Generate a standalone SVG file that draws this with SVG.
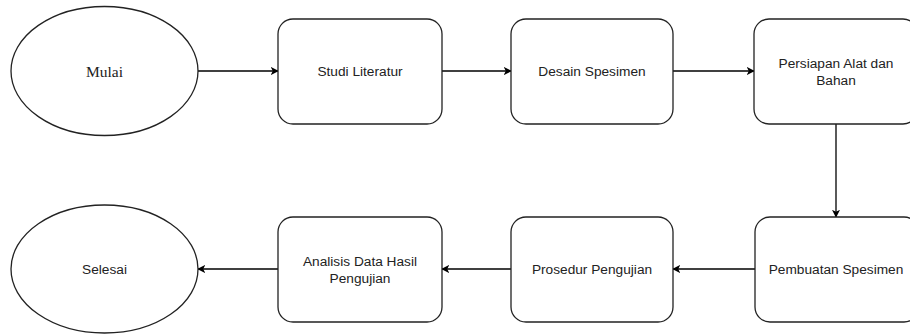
<svg xmlns="http://www.w3.org/2000/svg" width="910" height="334" viewBox="0 0 910 334">
<defs>
<marker id="ah" viewBox="0 0 10 10" refX="9" refY="5" markerWidth="8" markerHeight="8" markerUnits="userSpaceOnUse" orient="auto">
<path d="M0,0 L10,5 L0,10 L2.5,5 Z" fill="#000"/>
</marker>
<style>
.n{fill:#fff;stroke:#222;stroke-width:1.3}
.t{font-family:"Liberation Sans",Arial,sans-serif;font-size:13.7px;fill:#222;text-anchor:middle}
.s{font-family:"Liberation Serif","Times New Roman",serif;font-size:15.5px;fill:#222;text-anchor:middle}
.c{fill:none;stroke:#000;stroke-width:1.3;marker-end:url(#ah)}
</style>
</defs>
<rect width="910" height="334" fill="#fff"/>
<g id="connectors">
<line class="c" x1="198" y1="71" x2="278" y2="71"/>
<line class="c" x1="442" y1="71" x2="511" y2="71"/>
<line class="c" x1="673" y1="71" x2="754" y2="71"/>
<line class="c" x1="836" y1="124" x2="836" y2="217"/>
<line class="c" x1="755" y1="269" x2="673" y2="269"/>
<line class="c" x1="511" y1="269" x2="442" y2="269"/>
<line class="c" x1="278" y1="269" x2="198" y2="269"/>
</g>
<g id="mulai"><ellipse class="n" cx="104.5" cy="71" rx="93.5" ry="64.5"/><text class="s" x="104.5" y="76.5">Mulai</text></g>
<g id="studi"><rect class="n" x="278" y="19" width="164" height="105" rx="15"/><text class="t" x="360" y="76">Studi Literatur</text></g>
<g id="desain"><rect class="n" x="511" y="19" width="162" height="105" rx="15"/><text class="t" x="592" y="76">Desain Spesimen</text></g>
<g id="persiapan"><rect class="n" x="754" y="19" width="164" height="105" rx="15"/><text class="t" x="836" y="67.5">Persiapan Alat dan</text><text class="t" x="836" y="84.5">Bahan</text></g>
<g id="pembuatan"><rect class="n" x="755" y="217" width="164" height="105" rx="15"/><text class="t" x="836" y="274">Pembuatan Spesimen</text></g>
<g id="prosedur"><rect class="n" x="511" y="217" width="162" height="105" rx="15"/><text class="t" x="592" y="274">Prosedur Pengujian</text></g>
<g id="analisis"><rect class="n" x="278" y="217" width="164" height="105" rx="15"/><text class="t" x="360" y="265.5">Analisis Data Hasil</text><text class="t" x="360" y="282.5">Pengujian</text></g>
<g id="selesai"><ellipse class="n" cx="104.5" cy="269" rx="93.5" ry="64"/><text class="t" x="104.5" y="274">Selesai</text></g>
</svg>
